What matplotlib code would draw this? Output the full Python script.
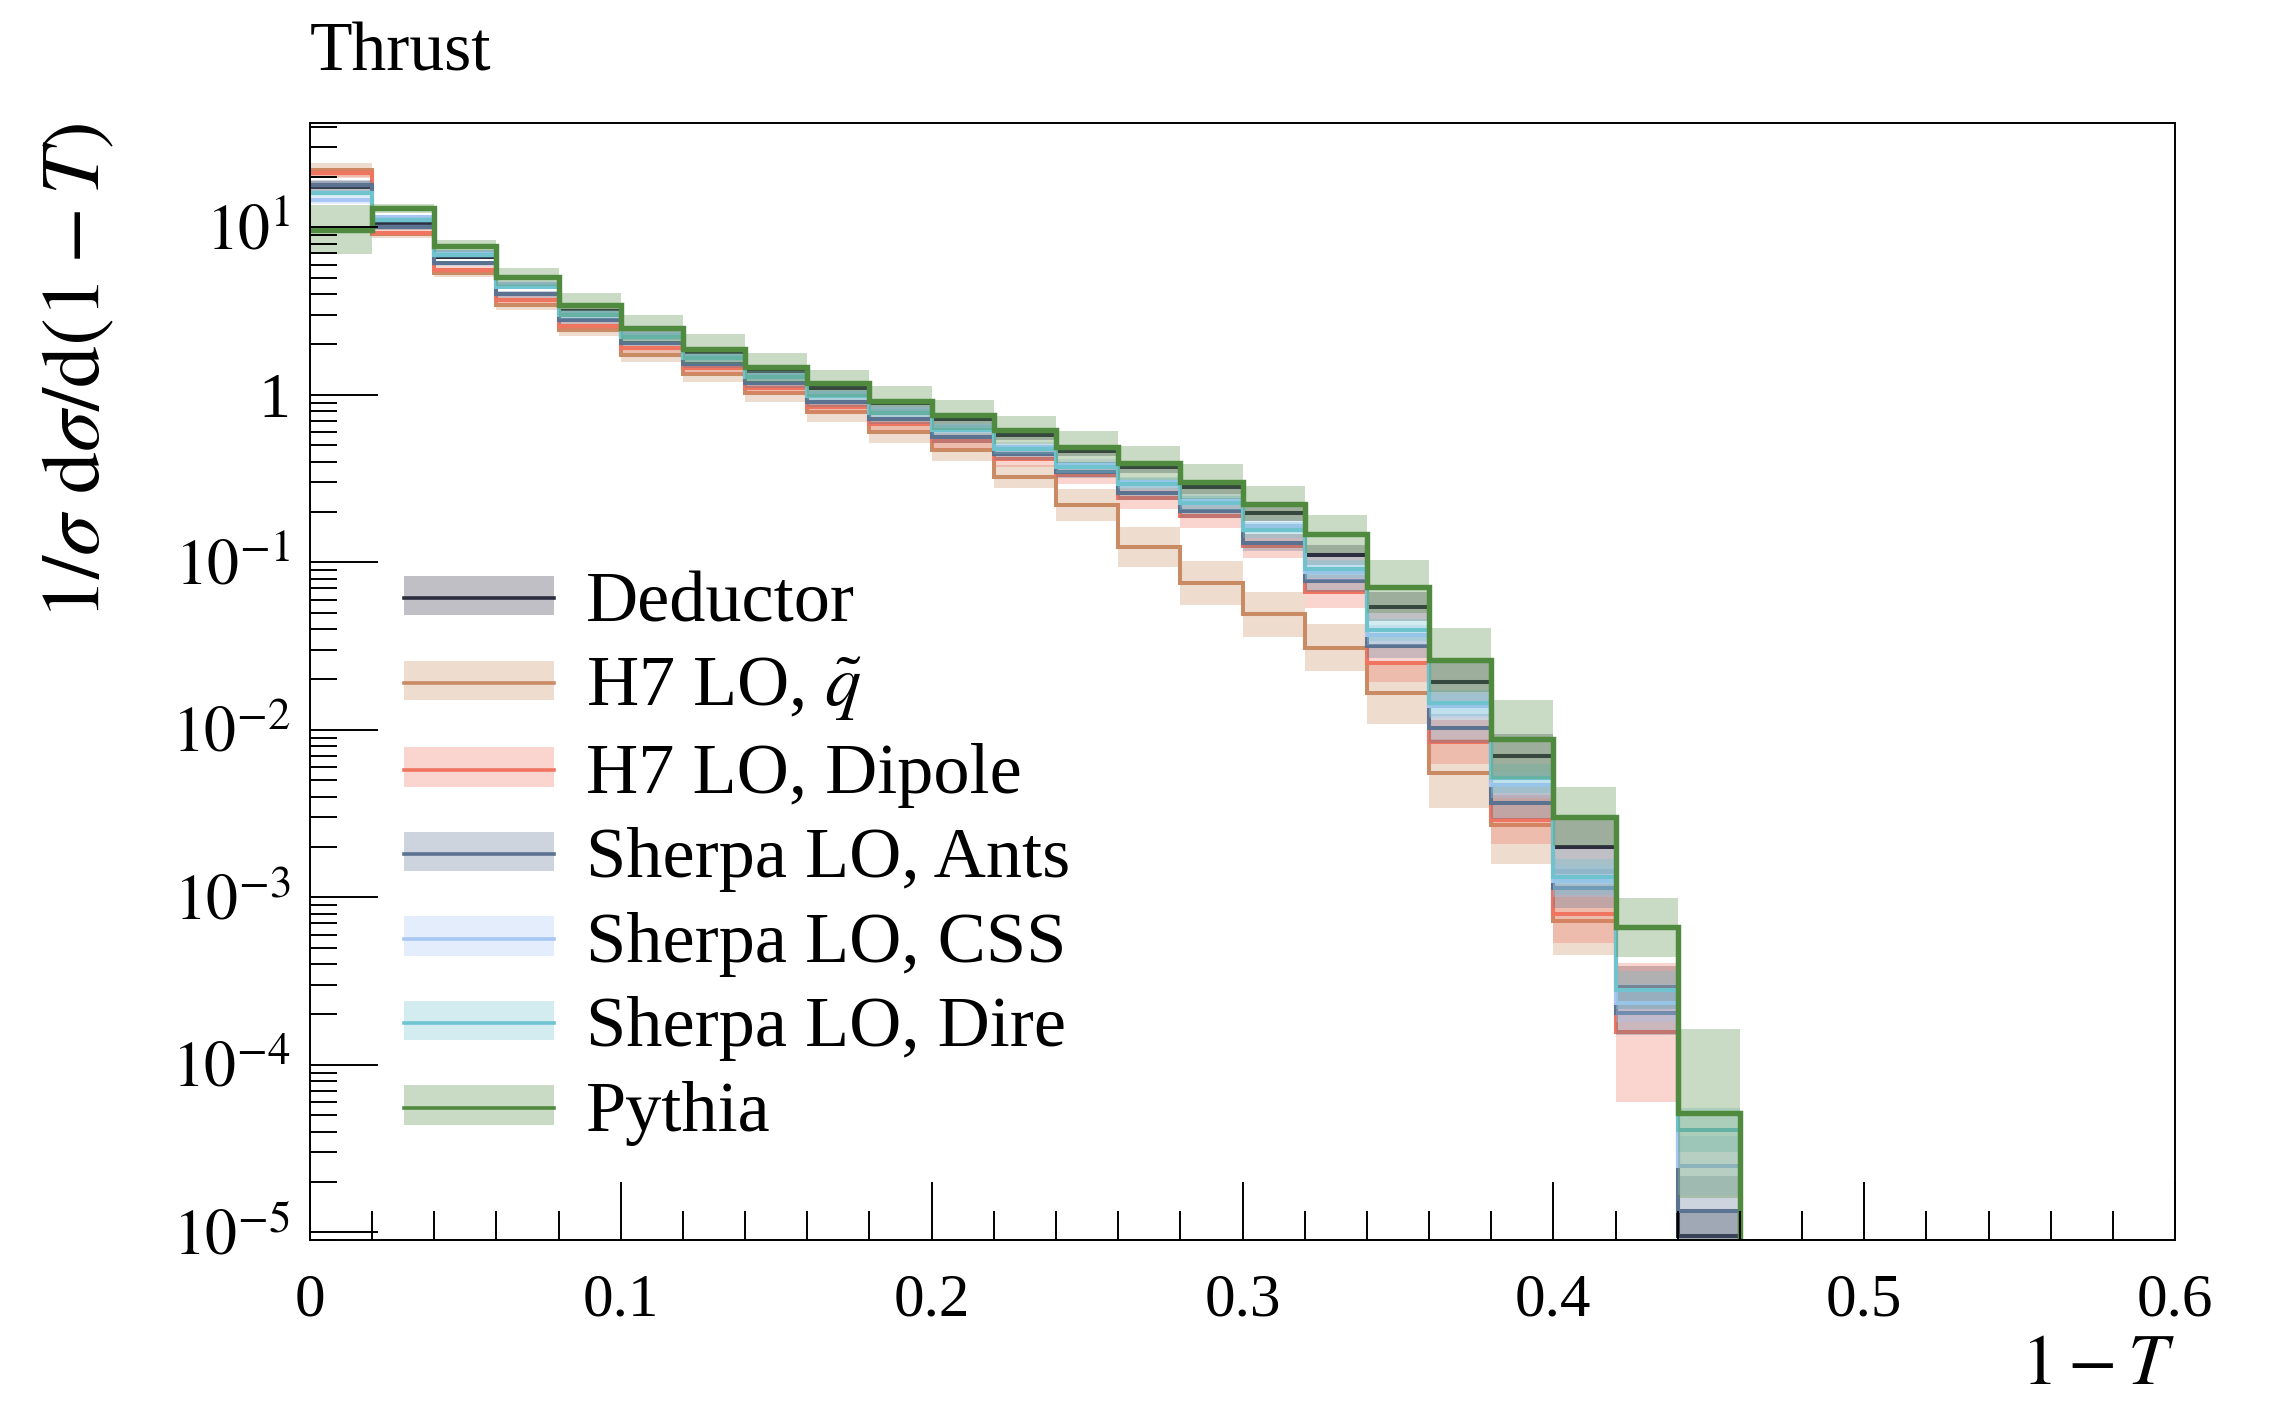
import numpy as np
import matplotlib
matplotlib.use("Agg")
import matplotlib.pyplot as plt
from matplotlib.patches import Patch
from matplotlib.lines import Line2D
from matplotlib.ticker import MultipleLocator, FuncFormatter, LogLocator, NullFormatter

plt.rcParams["font.family"] = ["Liberation Serif", "DejaVu Serif"]
plt.rcParams["mathtext.fontset"] = "stix"

# Bin edges of the 1-T histogram (last bin is the empty one closing the steps)
bin_edges = np.round(np.arange(0.0, 0.48 + 1e-9, 0.02), 2)

labels = ["Deductor", r"H7 LO, $\tilde{q}$", "H7 LO, Dipole", "Sherpa LO, Ants",
          "Sherpa LO, CSS", "Sherpa LO, Dire", "Pythia"]

nan = np.nan
deductor = [17.5, 10.5, 6.7, 4.5, 3.15, 2.30, 1.76, 1.37, 1.10, 0.89, 0.72, 0.577,
            0.465, 0.370, 0.281, 0.198, 0.111, 0.0545, 0.0194, 0.0070, 0.00201,
            0.00029, 9.5e-6, 0.0]
h7_qtilde = [22.0, 9.1, 5.35, 3.45, 2.44, 1.73, 1.33, 1.02, 0.79, 0.60, 0.47, 0.325,
             0.220, 0.124, 0.075, 0.049, 0.031, 0.0167, 0.0055, 0.0027, 0.00072,
             nan, nan, nan]
h7_dipole = [21.0, 9.3, 5.6, 3.69, 2.59, 1.91, 1.44, 1.10, 0.85, 0.67, 0.53, 0.413,
             0.333, 0.241, 0.188, 0.1255, 0.067, 0.0252, 0.0085, 0.0029, 0.00080,
             0.000157, nan, nan]
sherpa_ants = [18.0, 10.1, 6.1, 4.0, 2.8, 2.05, 1.53, 1.17, 0.91, 0.716, 0.56, 0.444,
               0.348, 0.261, 0.204, 0.131, 0.077, 0.0317, 0.0102, 0.00365, 0.00113,
               0.000204, 1.35e-5, 0.0]
sherpa_css = [14.5, 11.5, 7.1, 4.6, 3.10, 2.30, 1.70, 1.32, 1.02, 0.82, 0.65, 0.49,
              0.385, 0.30, 0.235, 0.165, 0.088, 0.037, 0.0138, 0.0047, 0.00125,
              0.000233, 2.5e-5, 0.0]
sherpa_dire = [16.0, 11.1, 6.85, 4.43, 3.0, 2.22, 1.66, 1.28, 0.99, 0.78, 0.62, 0.474,
               0.37, 0.294, 0.226, 0.156, 0.091, 0.0395, 0.0145, 0.00515, 0.00132,
               0.00028, 4.1e-5, 0.0]
pythia = [9.7, 13.0, 7.76, 5.04, 3.45, 2.50, 1.87, 1.46, 1.17, 0.925, 0.76, 0.62,
          0.49, 0.391, 0.304, 0.224, 0.148, 0.0717, 0.026, 0.00879, 0.00303,
          0.000664, 5.15e-5, 0.0]

# Multiplicative uncertainty (band spans value/f .. value*f)
deductor_err = [1.08, 1.04, 1.04, 1.04, 1.05, 1.05, 1.05, 1.05, 1.06, 1.06, 1.07, 1.07,
                1.08, 1.09, 1.10, 1.12, 1.15, 1.22, 1.30, 1.35, 1.45, 1.35, 1.40, nan]
h7_qtilde_err = [1.10, 1.05, 1.06, 1.07, 1.08, 1.10, 1.12, 1.13, 1.14, 1.16, 1.17, 1.17,
                 1.25, 1.32, 1.35, 1.36, 1.38, 1.55, 1.60, 1.70, 1.60, nan, nan, nan]
h7_dipole_err = [1.07, 1.05, 1.05, 1.06, 1.06, 1.07, 1.08, 1.08, 1.09, 1.10, 1.11, 1.12,
                 1.13, 1.15, 1.17, 1.18, 1.25, 1.30, 1.35, 1.40, 1.50, 2.60, nan, nan]
sherpa_ants_err = [1.06, 1.04, 1.04, 1.05, 1.05, 1.05, 1.06, 1.06, 1.07, 1.07, 1.08, 1.08,
                   1.09, 1.10, 1.11, 1.12, 1.15, 1.18, 1.22, 1.25, 1.30, 1.35, 1.60, nan]
sherpa_css_err = [1.05, 1.03, 1.03, 1.04, 1.04, 1.04, 1.05, 1.05, 1.05, 1.06, 1.06, 1.07,
                  1.07, 1.08, 1.09, 1.10, 1.12, 1.15, 1.18, 1.20, 1.25, 1.30, 1.50, nan]
sherpa_dire_err = [1.05, 1.04, 1.04, 1.04, 1.05, 1.05, 1.05, 1.06, 1.06, 1.06, 1.07, 1.07,
                   1.08, 1.09, 1.10, 1.11, 1.13, 1.16, 1.20, 1.22, 1.28, 1.30, 1.35, nan]
pythia_err = [1.40, 1.06, 1.09, 1.13, 1.18, 1.20, 1.23, 1.22, 1.21, 1.22, 1.23, 1.21,
              1.25, 1.26, 1.28, 1.27, 1.30, 1.44, 1.55, 1.72, 1.50, 1.50, 3.20, nan]

series = [deductor, h7_qtilde, h7_dipole, sherpa_ants, sherpa_css, sherpa_dire, pythia]
errors = [deductor_err, h7_qtilde_err, h7_dipole_err, sherpa_ants_err, sherpa_css_err,
          sherpa_dire_err, pythia_err]
colors = ["#2d2d40", "#c98b63", "#ef7561", "#5b7391", "#a8c6f2", "#6fc3cf", "#4f8a3f"]
widths = [1.45, 1.45, 1.45, 1.45, 1.45, 1.45, 1.95]

fig = plt.figure(figsize=(11.37, 7.005), dpi=200)
ax = fig.add_axes([0.1363, 0.1149, 0.8202, 0.7973])

band_alpha = 0.3
for vals, errf, col, lw in zip(series, errors, colors, widths):
    v = np.asarray(vals, dtype=float)
    f = np.asarray(errf, dtype=float)
    ok = np.isfinite(v) & np.isfinite(f) & (v > 0)
    lo = v[ok] / f[ok]
    hi = v[ok] * f[ok]
    ax.bar(bin_edges[:-1][ok], hi - lo, bottom=lo, width=0.02, align="edge",
           color=col, alpha=band_alpha, linewidth=0)
    ax.stairs(v, bin_edges, baseline=None, color=col, linewidth=lw)

ax.set_yscale("log")
ax.set_xlim(0.0, 0.6)
ax.set_ylim(9.0e-6, 42.0)

# Axis ticks
ax.xaxis.set_major_locator(MultipleLocator(0.1))
ax.xaxis.set_minor_locator(MultipleLocator(0.02))
ax.xaxis.set_major_formatter(FuncFormatter(lambda x, p: "0" if abs(x) < 1e-9 else f"{x:.1f}"))
ax.yaxis.set_major_locator(LogLocator(base=10, numticks=20))
ax.yaxis.set_minor_locator(LogLocator(base=10, subs=np.arange(2, 10), numticks=20))
ax.yaxis.set_minor_formatter(NullFormatter())


def log_label(y, pos):
    e = int(round(np.log10(y)))
    return "1" if e == 0 else r"$10^{%d}$" % e


ax.yaxis.set_major_formatter(FuncFormatter(log_label))
ax.tick_params(axis="x", which="major", direction="in", length=21, width=0.7,
               labelsize=22, pad=12, top=False)
ax.tick_params(axis="x", which="minor", direction="in", length=10.4, width=0.7, top=False)
ax.tick_params(axis="y", which="major", direction="in", length=24.5, width=0.7,
               labelsize=23, pad=7, right=False)
ax.tick_params(axis="y", which="minor", direction="in", length=9.7, width=0.7, right=False)
for s in ax.spines.values():
    s.set_linewidth(0.7)

ax.set_xlabel(r"$1-T$", fontsize=26, loc="right", labelpad=2)
ax.set_ylabel(r"$1/\sigma\ \mathrm{d}\sigma/\mathrm{d}(1-T)$", fontsize=30, loc="top")
ax.yaxis.set_label_coords(-0.103, 1.0)
ax.set_title("Thrust", loc="left", fontsize=25, pad=19)

handles = [(Patch(facecolor=c, alpha=band_alpha, edgecolor="none"),
            Line2D([], [], color=c, linewidth=1.3)) for c in colors]
ax.legend(handles, labels, loc="center left", bbox_to_anchor=(0.0505, 0.3416),
          frameon=False, fontsize=26, handlelength=2.07, handleheight=0.47,
          handletextpad=0.45, labelspacing=0.27, borderpad=0.0, borderaxespad=0.0)

fig.savefig("out.png", dpi=200)
